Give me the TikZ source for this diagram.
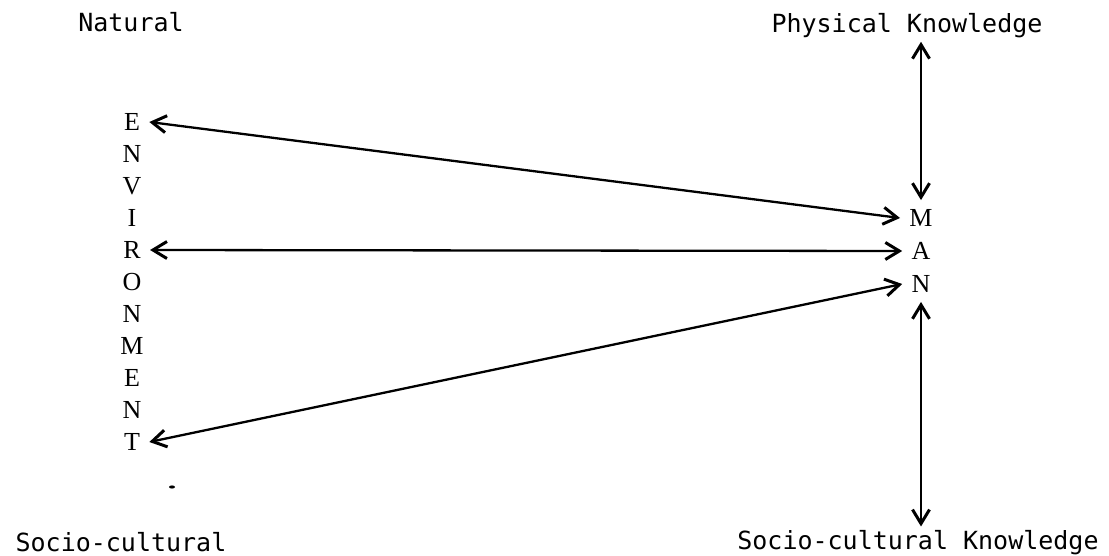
\documentclass[tikz,border=0pt]{standalone}
\usepackage{fontspec}
\newfontfamily\labfont{DejaVu Sans Mono}
\newfontfamily\letfont{Liberation Serif}
\usetikzlibrary{arrows.meta}
\begin{document}
\begin{tikzpicture}[x=0.5pt,y=-0.5pt,
  lab/.style={font=\labfont\fontsize{12.5}{14}\selectfont, inner sep=1.5pt},
  letter/.style={font=\letfont\fontsize{13}{15}\selectfont, inner sep=4.5pt},
  tipstyle/.style={},
  conn/.style={{Straight Barb[length=7pt,width=8.5pt,line width=1.5pt]}-{Straight Barb[length=7pt,width=8.5pt,line width=1.5pt]}, line width=1.15pt}]
\useasboundingbox (0,0) rectangle (1109,556);
% labels
\node[lab, anchor=base] (nat) at (131,32) {Natural};
\node[lab, anchor=base] (pk) at (907,33) {Physical Knowledge};
\node[lab, anchor=base] (sc) at (121,551) {Socio-cultural};
\node[lab, anchor=base] (sk) at (918,549) {Socio-cultural Knowledge};
% ENVIRONMENT column
\foreach \l [count=\i] in {E,N,V,I,R,O,N,M,E,N,T}
  \node[letter] (env\i) at (132,{122+32*(\i-1)}) {\l};
% MAN column
\node[letter] (m) at (921,218) {M};
\node[letter] (a) at (921,251) {A};
\node[letter] (n) at (921,284) {N};
% connectors
\draw[conn] (env1.east) -- (m.west);
\draw[conn] (env5.east) -- (a.west);
\draw[conn] (env11.east) -- (n.west);
\draw[conn] (m.north) -- (m.north |- pk.south);
\draw[conn] (n.south) -- (n.south |- sk.north);
% stray dot
\fill (172,487) ellipse [x radius=3, y radius=1.6];
\end{tikzpicture}
\end{document}
